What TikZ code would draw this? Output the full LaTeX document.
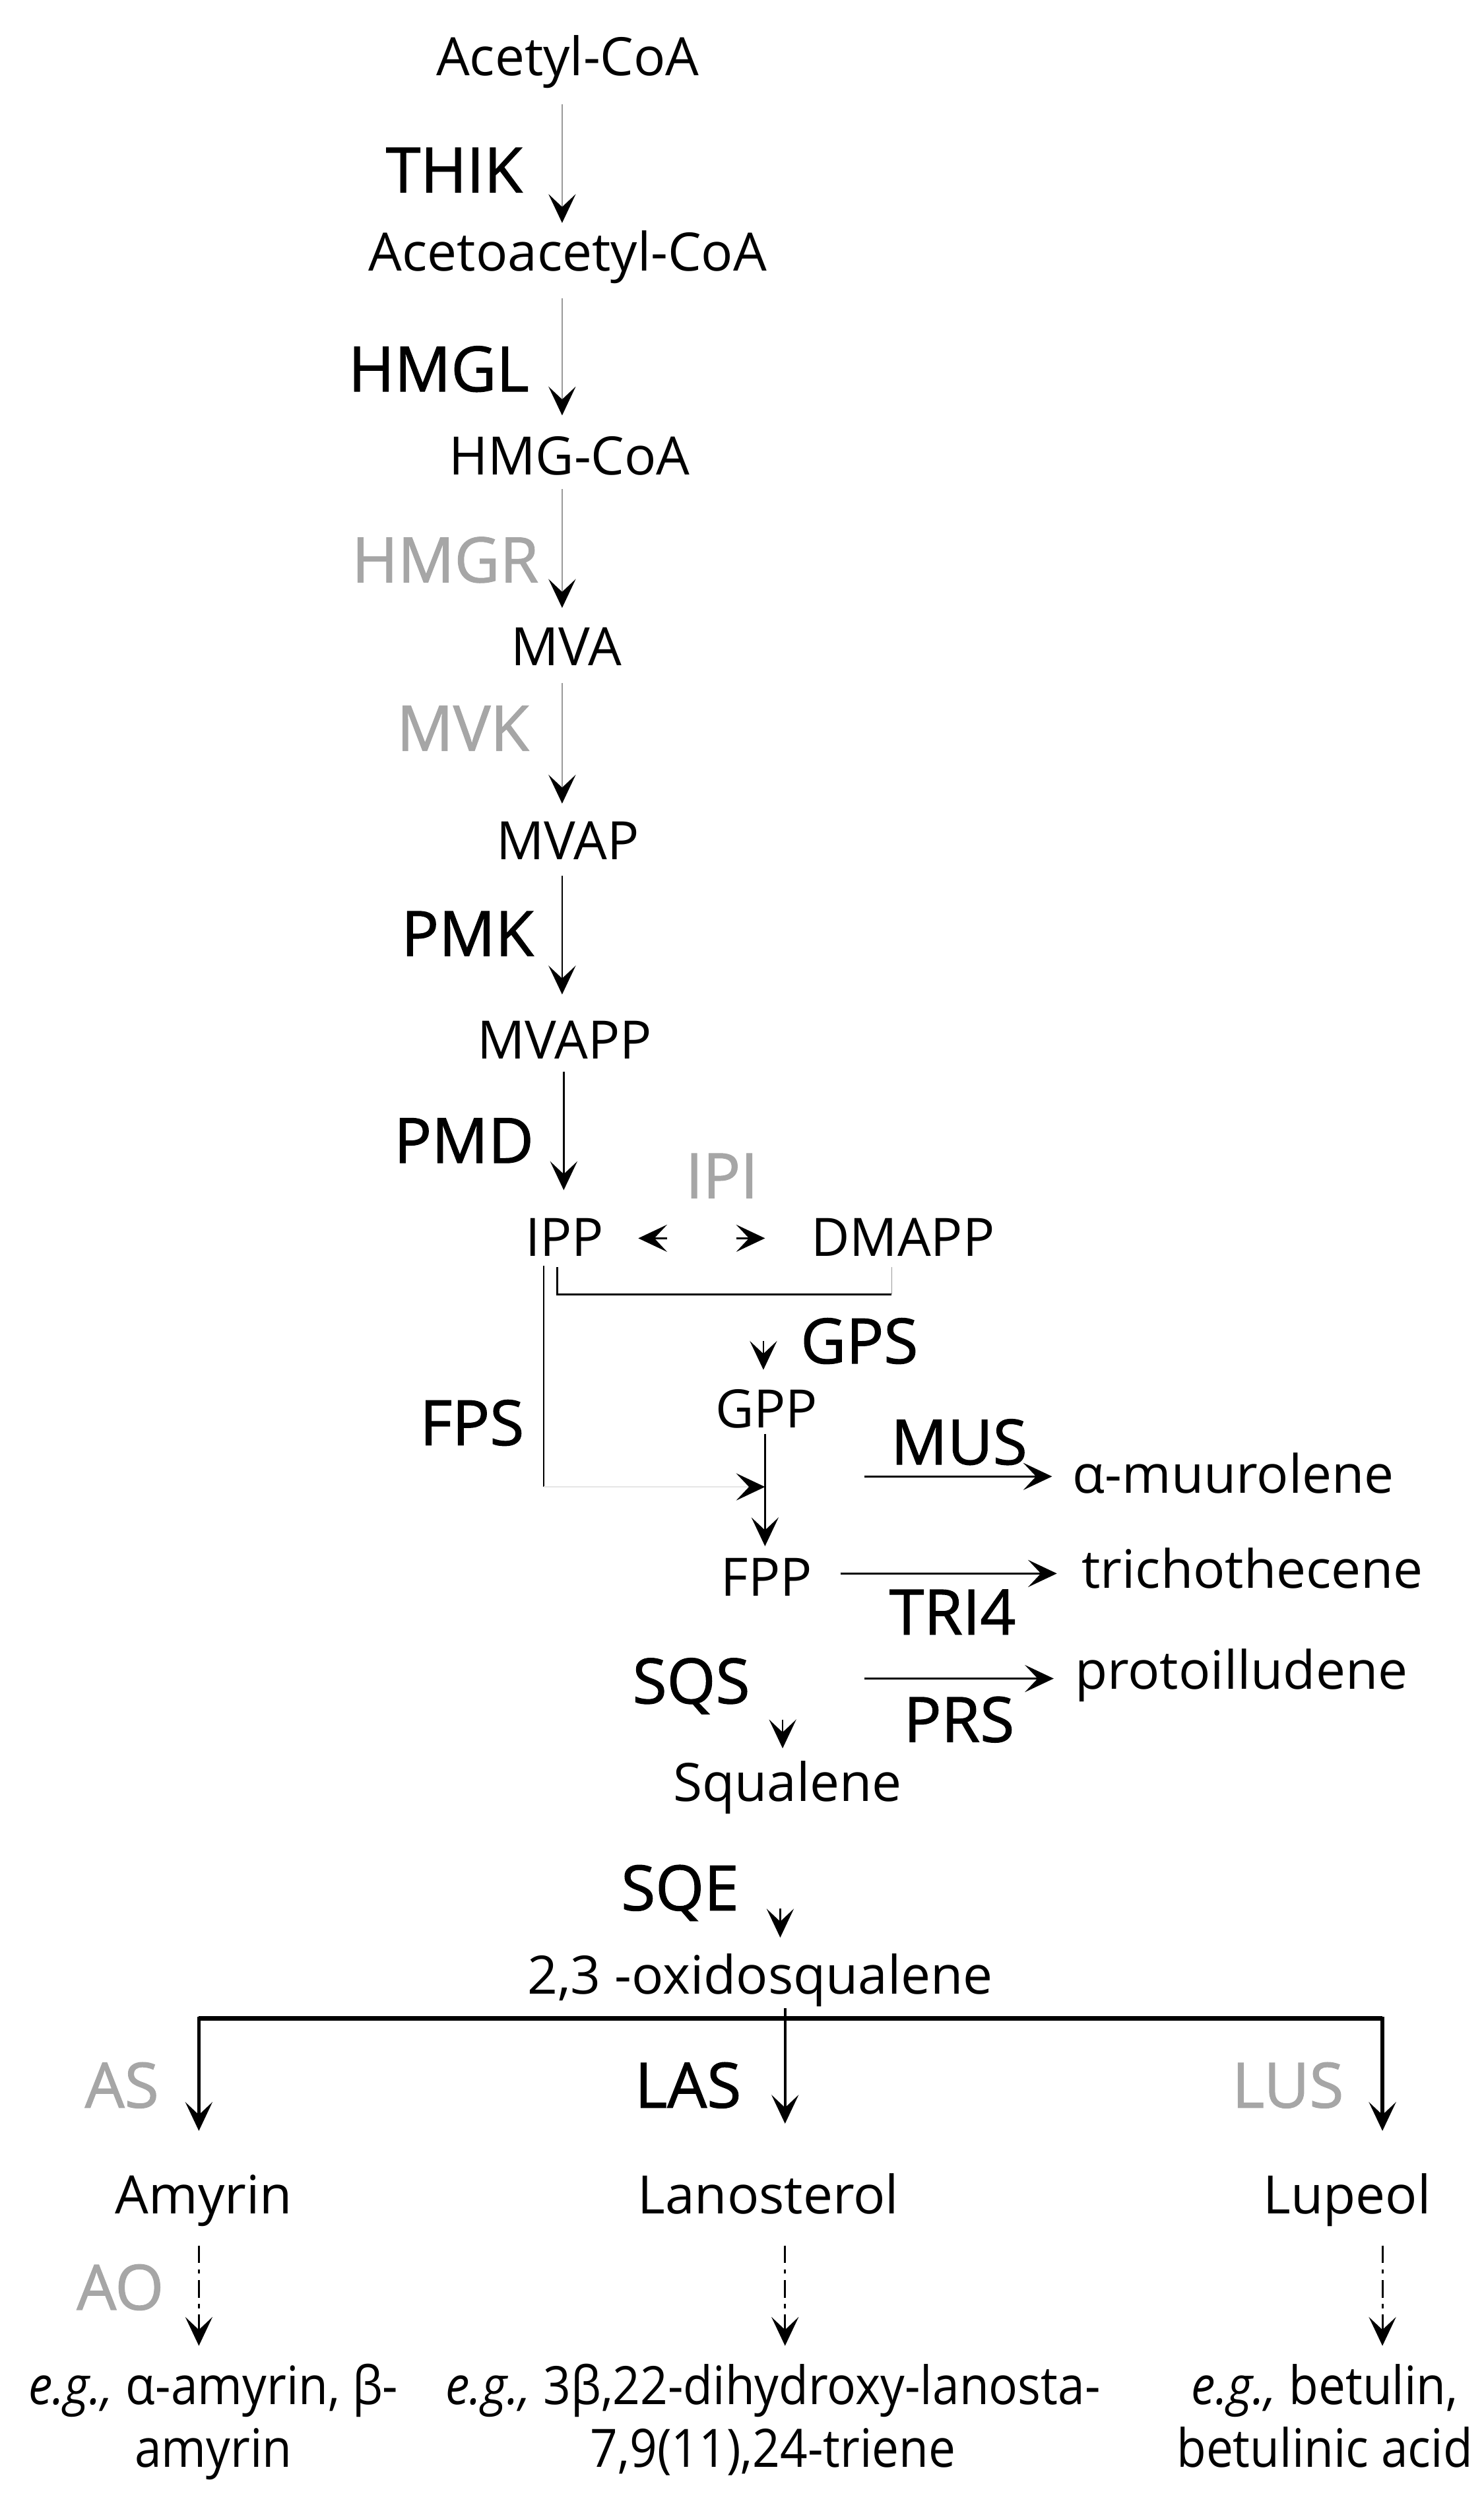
\documentclass[tikz,border=0pt]{standalone}
\usepackage{fontspec}
\setmainfont{Open Sans}
\newfontfamily\narrowfont[FakeStretch=0.91]{Open Sans}
\newfontfamily\enzfont[FakeBold=1.2]{Open Sans}
\usetikzlibrary{arrows.meta}
\definecolor{enzgray}{HTML}{A6A6A6}
\definecolor{linegray}{HTML}{999999}
\definecolor{faint}{HTML}{E6E6E6}
\begin{document}
\begin{tikzpicture}[x=1pt,y=-1pt,
  met/.style={font=\fontsize{33}{38}\selectfont, inner sep=0pt, anchor=base},
  nmet/.style={font=\narrowfont\fontsize{33}{39}\selectfont, inner sep=0pt, anchor=base, align=center},
  enz/.style={font=\enzfont\fontsize{39}{44}\selectfont, inner sep=0pt, anchor=base},
  genz/.style={enz, text=enzgray},
  tip/.style={-{Stealth[length=18pt,width=17pt,inset=8pt,line width=0.6pt,color=black]}},
  garrow/.style={tip, draw=linegray, line width=0.9pt},
  barrow/.style={tip, draw=black, line width=1.1pt},
  darrow/.style={barrow, line width=1.3pt, dash pattern=on 11pt off 4pt on 2.5pt off 4pt},
  thinline/.style={draw=black, line width=1.1pt},
]
\useasboundingbox (0,0) rectangle (925,1568);

% metabolites
\node[met] (acetyl) at (354,47) {Acetyl-CoA};
\node[met] (acetoacetyl) at (354,169) {Acetoacetyl-CoA};
\node[met] (hmgcoa) at (355,296) {HMG-CoA};
\node[met] (mva) at (353,415) {MVA};
\node[met] (mvap) at (354,536) {MVAP};
\node[met] (mvapp) at (352,660) {MVAPP};
\node[met] (ipp) at (352,783) {IPP};
\node[met] (dmapp) at (563,783) {DMAPP};
\node[met] (gpp) at (478,890) {GPP};
\node[met] (fpp) at (478,995) {FPP};
\node[met] (squalene) at (491,1123) {Squalene};
\node[met] (oxido) at (474,1243) {2,3 -oxidosqualene};
\node[met] (amyrin) at (127,1380) {Amyrin};
\node[met] (lanosterol) at (479,1380) {Lanosterol};
\node[met] (lupeol) at (840,1380) {Lupeol};
\node[met] (muurolene) at (769,931) {α-muurolene};
\node[met] (tricho) at (781,990) {trichothecene};
\node[met] (proto) at (774,1053) {protoilludene};
\node[nmet] (eg1) at (133,1538) {\textit{e.g.,} α-amyrin, β-\\amyrin};
\node[nmet] (eg2) at (482,1538) {\textit{e.g.,} 3β,22-dihydroxy-lanosta-\\7,9(11),24-triene};
\node[nmet] (eg3) at (826,1538) {\textit{e.g.,} betulin,\\betulinic acid};

% enzymes
\node[enz, anchor=base east] (thik) at (326,120) {THIK};
\node[enz, anchor=base east] (hmgl) at (330,244) {HMGL};
\node[genz, anchor=base east] (hmgr) at (336,363) {HMGR};
\node[genz, anchor=base east] (mvk) at (330,468) {MVK};
\node[enz, anchor=base east] (pmk) at (333,596) {PMK};
\node[enz, anchor=base east] (pmd) at (333,725) {PMD};
\node[genz] (ipi) at (450,747) {IPI};
\node[enz, anchor=base west] (gps) at (499,850) {GPS};
\node[enz, anchor=base east] (fps) at (327,901) {FPS};
\node[enz] (mus) at (598,913) {MUS};
\node[enz] (tri4) at (594,1019) {TRI4};
\node[enz] (sqs) at (431,1062) {SQS};
\node[enz] (prs) at (598,1086) {PRS};
\node[enz] (sqe) at (424,1191) {SQE};
\node[genz] (as) at (76,1314) {AS};
\node[enz] (las) at (429,1314) {LAS};
\node[genz] (lus) at (803,1314) {LUS};
\node[genz] (ao) at (75,1440) {AO};

% main column arrows
\coordinate (c1a) at (350.5,65);  \coordinate (c1b) at (350.5,139);
\coordinate (c2a) at (350.5,186); \coordinate (c2b) at (350.5,259);
\coordinate (c3a) at (350.5,305); \coordinate (c3b) at (350.5,379);
\coordinate (c4a) at (350.5,426); \coordinate (c4b) at (350.5,501);
\coordinate (c5a) at (350.5,546); \coordinate (c5b) at (350.5,620);
\coordinate (c6a) at (351.5,668); \coordinate (c6b) at (351.5,742);
\draw[garrow] (c1a) -- (c1b);
\draw[garrow] (c2a) -- (c2b);
\draw[garrow] (c3a) -- (c3b);
\draw[garrow] (c4a) -- (c4b);
\draw[barrow] (c5a) -- (c5b);
\draw[barrow] (c6a) -- (c6b);

% IPI heads
\coordinate (ipiL0) at (416,772); \coordinate (ipiL) at (398,772);
\coordinate (ipiR0) at (459,772); \coordinate (ipiR) at (477,772);
\draw[barrow] (ipiL0) -- (ipiL);
\draw[barrow] (ipiR0) -- (ipiR);

% bracket IPP-DMAPP
\coordinate (br1) at (347.5,790); \coordinate (br2) at (347.5,807);
\coordinate (br3) at (556,807); \coordinate (br4) at (556,790);
\draw[thinline] (br1) -- (br2) -- (br3);
\draw[draw=linegray, line width=0.7pt] (br3) -- (br4);

% GPS head
\coordinate (gps0) at (476,836); \coordinate (gps1) at (476,854);
\draw[barrow] (gps0) -- (gps1);

% FPS line
\coordinate (fps0) at (339,789); \coordinate (fps1) at (339,927);
\coordinate (fps2) at (477,927);
\draw[draw=black, line width=0.9pt] (fps0) -- (fps1);
\draw[tip, draw=faint, line width=0.9pt] (fps1) -- (fps2);

% GPP -> FPP
\coordinate (g0) at (477,894); \coordinate (g1) at (477,964);
\draw[barrow] (g0) -- (g1);

% side products
\coordinate (m0) at (539,920.5); \coordinate (m1) at (656,920.5);
\coordinate (t0) at (524,981); \coordinate (t1) at (659,981);
\coordinate (p0) at (539,1046.5); \coordinate (p1) at (657,1046.5);
\draw[barrow] (m0) -- (m1);
\draw[barrow] (t0) -- (t1);
\draw[barrow] (p0) -- (p1);

% SQS head, SQE head
\coordinate (sq0) at (488,1072); \coordinate (sq1) at (488,1090);
\draw[barrow] (sq0) -- (sq1);
\coordinate (se0) at (486.5,1190); \coordinate (se1) at (486.5,1208);
\draw[barrow] (se0) -- (se1);

% branching
\coordinate (st0) at (489.5,1252); \coordinate (st1) at (489.5,1324);
\coordinate (bl) at (124,1258.5); \coordinate (brr) at (862,1258.5);
\coordinate (la) at (124,1328.5); \coordinate (ra) at (862,1328.5);
\draw[{Stealth[length=18pt,width=17pt,inset=8pt,line width=0.6pt]}-{Stealth[length=18pt,width=17pt,inset=8pt,line width=0.6pt]}, draw=black, line width=2.2pt, line join=miter]
  (la) -- (bl) -- (brr) -- (ra);
\draw[draw=black, line width=3pt] (bl) -- (brr);
\draw[barrow, line width=1.5pt] (st0) -- (st1);

% dashed arrows
\coordinate (d1a) at (124,1400); \coordinate (d1b) at (124,1462.5);
\coordinate (d2a) at (489.5,1400); \coordinate (d2b) at (489.5,1462.5);
\coordinate (d3a) at (862,1400); \coordinate (d3b) at (862,1462.5);
\draw[darrow] (d1a) -- (d1b);
\draw[darrow] (d2a) -- (d2b);
\draw[darrow] (d3a) -- (d3b);
\end{tikzpicture}
\end{document}
